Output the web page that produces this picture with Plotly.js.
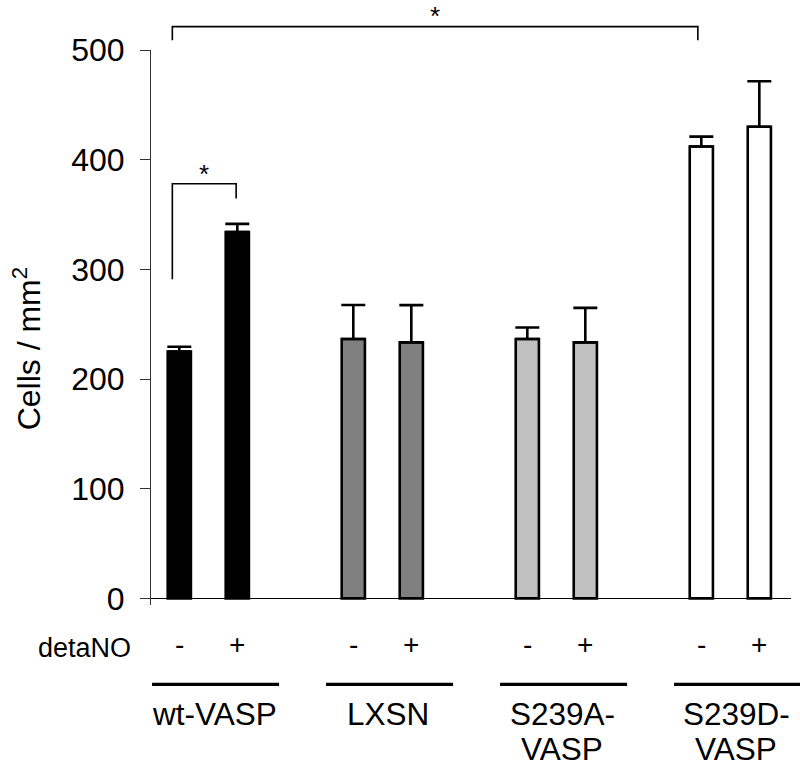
<!DOCTYPE html>
<html>
<head>
<meta charset="utf-8">
<script src="https://cdn.plot.ly/plotly-3.0.1.min.js"></script>
<style>html,body{margin:0;padding:0;background:#fff;}#chart{width:800px;height:768px;}</style>
</head>
<body>
<div id="chart"></div>
<script>
// ---- data ----
var groups = ['wt-VASP', 'LXSN', 'S239A-<br>VASP', 'S239D-<br>VASP'];
var conditions = ['-', '+'];
var conditionTitle = 'detaNO';
var meanMinus = [225, 236.5, 236.5, 412];
var meanPlus = [334, 233.4, 233.4, 430];
var errMinus = [4.5, 31, 10.5, 9];
var errPlus = [7.5, 34, 31.5, 41.5];
var groupColors = ['#000000', '#808080', '#c0c0c0', '#ffffff'];
var yTicks = [0, 100, 200, 300, 400, 500];
var yTitle = 'Cells / mm<sup>2</sup>';
// significance comparisons: [groupA, condA, groupB, condB]
var sigPairs = [[0, 0, 0, 1], [0, 0, 3, 0]];

// ---- layout geometry ----
var W = 800, H = 768;
var mL = 151, mR = 9, mT = 50, mB = 163;
var yMin = -6, yMax = 500;
var xMin = -0.488, xMax = 10.546;
var groupStep = 3;
var plotH = H - mT - mB, plotW = W - mL - mR;

function xPos(g, c) { return g * groupStep + c; }
function px(x) { return (x - xMin) / (xMax - xMin); }
function py(y) { return (y - yMin) / (yMax - yMin); }
function pyPix(pix) { return 1 - (pix - mT) / plotH; }

var xs = [], ys = [], errs = [], cols = [];
for (var g = 0; g < groups.length; g++) {
  var vals = [meanMinus[g], meanPlus[g]];
  var es = [errMinus[g], errPlus[g]];
  for (var c = 0; c < conditions.length; c++) {
    xs.push(xPos(g, c));
    ys.push(vals[c]);
    errs.push(es[c]);
    cols.push(groupColors[g]);
  }
}

var trace = {
  type: 'bar',
  x: xs,
  y: ys,
  width: 0.4,
  marker: { color: cols, line: { color: '#000', width: 2.6 } },
  error_y: {
    type: 'data', symmetric: false, array: errs,
    arrayminus: errs.map(function () { return 0; }),
    color: '#000', thickness: 2.6, width: 12
  },
  hoverinfo: 'none'
};

var annotations = [];
var shapes = [];
var font = 'Liberation Sans, Arial, sans-serif';

// y-axis title
annotations.push({
  xref: 'paper', yref: 'paper', x: (27 - mL) / plotW, y: py(228),
  text: yTitle, textangle: -90, showarrow: false,
  font: { family: font, size: 32, color: '#000' }, xanchor: 'center', yanchor: 'middle'
});

// condition title
annotations.push({
  xref: 'paper', yref: 'paper', x: (84 - mL) / plotW, y: py(-45.5),
  text: conditionTitle, showarrow: false,
  font: { family: font, size: 27, color: '#000' }, xanchor: 'center', yanchor: 'middle'
});

for (var g = 0; g < groups.length; g++) {
  for (var c = 0; c < conditions.length; c++) {
    annotations.push({
      xref: 'paper', yref: 'paper', x: px(xPos(g, c)), y: py(-42),
      text: conditions[c], showarrow: false,
      font: { family: font, size: 28, color: '#000' }, xanchor: 'center', yanchor: 'middle'
    });
  }
  // group underline
  shapes.push({
    type: 'line', xref: 'paper', yref: 'paper',
    x0: px(xPos(g, 0) - 0.47), x1: px(xPos(g, 1) + 0.72),
    y0: py(-78.3), y1: py(-78.3),
    line: { color: '#000', width: 3.2 }
  });
  var lines = groups[g].split('<br>');
  for (var k = 0; k < lines.length; k++) {
    annotations.push({
      xref: 'paper', yref: 'paper', x: px(xPos(g, 0) + 0.6), y: pyPix(714 + 35 * k),
      text: lines[k], showarrow: false, height: 32,
      font: { family: font, size: 31.5, color: '#000' }, xanchor: 'center', yanchor: 'middle',
      valign: 'middle', align: 'center'
    });
  }
}

// significance brackets
var bracketSpecs = [
  { top: 378, left: 291, right: 364.5, star: 391, dxL: -0.12, dxR: -0.02 },
  { top: 521.3, left: 509, right: 509, star: 534.5, dxL: -0.12, dxR: -0.06 }
];
for (var i = 0; i < sigPairs.length; i++) {
  var p = sigPairs[i], b = bracketSpecs[i];
  var xa = xPos(p[0], p[1]) + b.dxL, xb = xPos(p[2], p[3]) + b.dxR;
  var path = 'M ' + px(xa) + ' ' + py(b.left) + ' L ' + px(xa) + ' ' + py(b.top) +
             ' L ' + px(xb) + ' ' + py(b.top) + ' L ' + px(xb) + ' ' + py(b.right);
  shapes.push({
    type: 'path', xref: 'paper', yref: 'paper', path: path,
    line: { color: '#000', width: 1.6 }
  });
  annotations.push({
    xref: 'paper', yref: 'paper', x: px((xa + xb) / 2), y: py(b.star),
    text: '*', showarrow: false, height: 22,
    font: { family: font, size: 26, color: '#000' }, xanchor: 'center', yanchor: 'middle',
    valign: 'top'
  });
}

var layout = {
  width: W, height: H,
  margin: { l: mL, r: mR, t: mT, b: mB },
  paper_bgcolor: '#fff', plot_bgcolor: '#fff',
  showlegend: false,
  xaxis: {
    range: [xMin, xMax], showgrid: false, zeroline: false, showline: false,
    showticklabels: false, ticks: '', fixedrange: true
  },
  yaxis: {
    range: [yMin, yMax], tickvals: yTicks, ticktext: yTicks.map(String),
    showgrid: false, zeroline: true, zerolinecolor: '#000', zerolinewidth: 1,
    showline: true, linecolor: '#333', linewidth: 1,
    ticks: 'outside', ticklen: 10, tickwidth: 1, tickcolor: '#333',
    ticklabelstandoff: 9,
    tickfont: { family: font, size: 32, color: '#000' }, fixedrange: true
  },
  shapes: shapes,
  annotations: annotations
};

Plotly.newPlot('chart', [trace], layout, { staticPlot: true });
</script>
</body>
</html>
